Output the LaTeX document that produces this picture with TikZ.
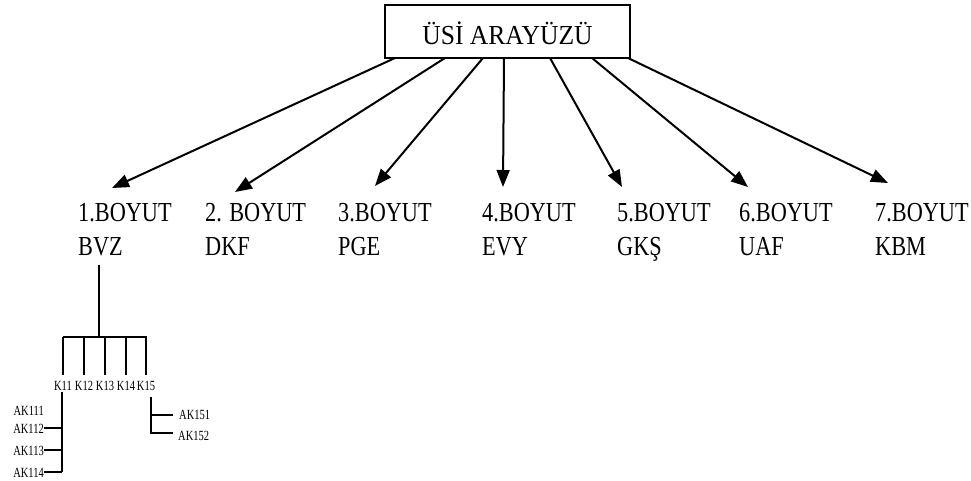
\documentclass[tikz,border=0pt]{standalone}
\usepackage{fontspec}
\setmainfont{Liberation Serif}
\newfontfamily\titlefont[FakeStretch=0.93]{Liberation Serif}
\newfontfamily\dimfont[FakeStretch=0.81]{Liberation Serif}
\newfontfamily\smallfont[FakeStretch=0.75]{Liberation Serif}
\usetikzlibrary{arrows.meta}
\begin{document}
\begin{tikzpicture}[x=1pt,y=-1pt,
  arr/.style={line width=2pt,-{Triangle[length=17pt,width=13pt]}},
  tree/.style={line width=1.2pt},
  dimlabel/.style={anchor=base west,inner sep=0pt,font=\dimfont\fontsize{27.5}{30}\selectfont},
  klabel/.style={anchor=base,inner sep=0pt,font=\smallfont\fontsize{14}{16}\selectfont},
  aklabel/.style={inner sep=0pt,font=\smallfont\fontsize{14}{16}\selectfont}]
\useasboundingbox (0,0) rectangle (971,481);

% top box
\node[draw,line width=2pt,anchor=base,inner sep=0pt,text height=40pt,text depth=13pt,
      minimum width=245pt,font=\titlefont\fontsize{27.5}{30}\selectfont] (top) at (507.5,45) {ÜSİ ARAYÜZÜ};

% dimension labels
\foreach \i/\x/\a/\b in {1/78/1.BOYUT/BVZ, 2/205/2. BOYUT/DKF, 3/338/3.BOYUT/PGE,
                         4/482/4.BOYUT/EVY, 5/617/5.BOYUT/GKŞ, 6/739/6.BOYUT/UAF, 7/875/7.BOYUT/KBM}{
  \node[dimlabel] (b\i) at (\x,221) {\a};
  \node[dimlabel] (c\i) at (\x,255) {\b};
}

% arrow start points on the box and tips above the labels
\foreach \i/\sx/\tx/\ty in {1/395/112/188, 2/445/235/192, 3/483/375/186, 4/504/503/187,
                            5/550/622/187, 6/592/748/187, 7/628/888/183}{
  \coordinate (s\i) at (\sx,58);
  \coordinate (t\i) at (\tx,\ty);
  \draw[arr] (s\i) -- (t\i);
}

% sub-tree of the first dimension
\coordinate (r0) at (99,265);
\coordinate (r1) at (99,337);
\draw[tree] (r0) -- (r1);
\draw[tree] (63,337) -- (147,337);
\foreach \i/\x in {1/63,2/84,3/105,4/126,5/146}{
  \draw[tree] (\x,337) -- (\x,375);
  \node[klabel] (k\i) at (\x,390) {K1\i};
}

% items under K11
\node[aklabel,anchor=east] (a1) at (44,411) {AK111};
\node[aklabel,anchor=east] (a2) at (44,429) {AK112};
\node[aklabel,anchor=east] (a3) at (44,451) {AK113};
\node[aklabel,anchor=east] (a4) at (44,473) {AK114};
\draw[tree] (62,392) -- (62,472);
\draw[tree] (a2.east |- 0,428) -- (62,428);
\draw[tree] (a3.east |- 0,450) -- (62,450);
\draw[tree] (a4.east |- 0,472) -- (62,472);

% items under K15
\node[aklabel,anchor=west] (a5) at (179,415) {AK151};
\node[aklabel,anchor=west] (a6) at (178,436) {AK152};
\draw[tree] (151,397) -- (151,433) -- (173,433);
\draw[tree] (151,415) -- (173,415);
\end{tikzpicture}
\end{document}
